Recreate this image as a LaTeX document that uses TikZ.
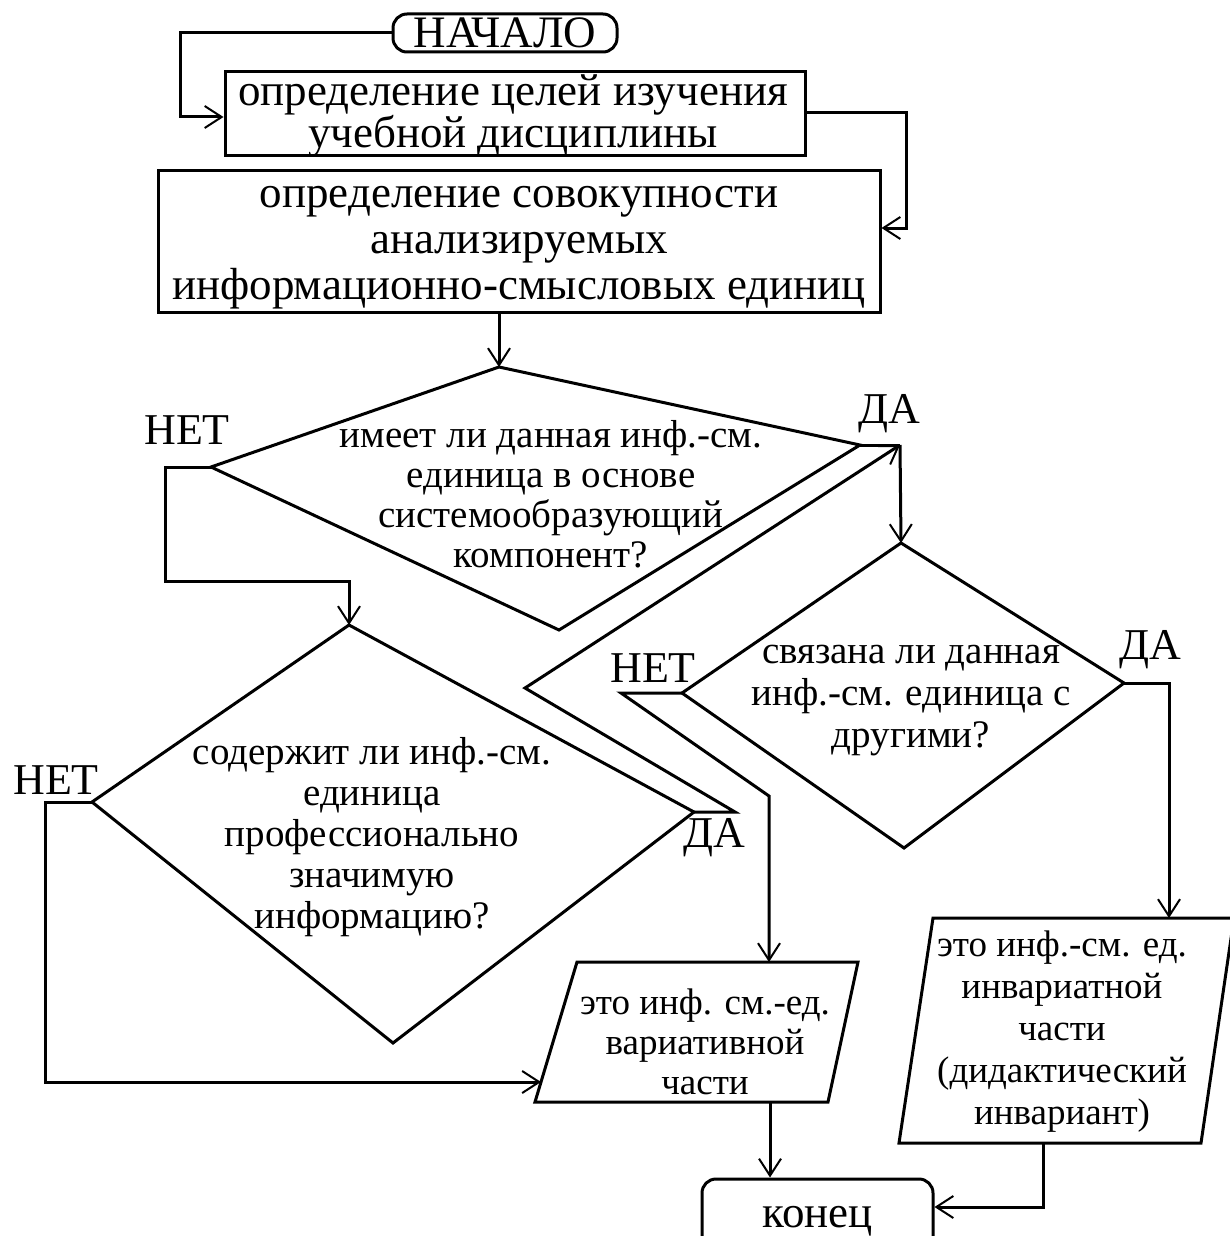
\documentclass[tikz,border=0pt]{standalone}
\usepackage{fontspec}
\setmainfont{Liberation Serif}
\usetikzlibrary{arrows.meta}
\begin{document}
\begin{tikzpicture}[x=1pt,y=-1pt,
  ln/.style={line width=3pt, line join=miter, line cap=butt},
  arr/.style={ln, -{Straight Barb[length=17pt,width=22pt,line width=2pt]}},
  shp/.style={ln},
  mid/.style={font=\fontsize{39}{40}\selectfont, align=center, inner sep=0pt},
  sml/.style={font=\fontsize{37}{40}\selectfont, align=center, inner sep=0pt},
  lbl/.style={font=\fontsize{44}{44}\selectfont, inner sep=0pt},
  box/.style={ln, draw, rectangle, inner sep=0pt, align=center, font=\fontsize{45}{44}\selectfont},
  term/.style={box, rounded corners=14pt}
]
\useasboundingbox (0,0) rectangle (1230,1236);
\fill[white] (0,0) rectangle (1230,1236);

% terminals and process boxes
\node[term, minimum width=224pt, minimum height=38pt] (start) at (505,33) {НАЧАЛО};
\node[box, minimum width=580pt, minimum height=83pt] (b1) at (515,113.5) {};
\node[box, font=\fontsize{45}{42}\selectfont, draw=none] (b1txt) at (513,116) {определение целей изучения\\учебной дисциплины};
\node[box, minimum width=722pt, minimum height=142pt] (b2) at (519,241) {};
\node[box, font=\fontsize{45}{46}\selectfont, draw=none] (b2txt) at (519,248) {определение совокупности\\анализируемых\\информационно-смысловых единиц};
\node[term, minimum width=231pt, minimum height=76pt, text depth=0pt] (end) at (817.5,1217) {конец};

% diamond 1
\coordinate (d1t) at (499,367);
\coordinate (d1r) at (860,445);
\coordinate (d1b) at (559,630);
\coordinate (d1l) at (211,467);
\draw[shp] (d1t) -- (d1r) -- (d1b) -- (d1l) -- cycle;
\node[mid] (d1txt) at (551,494) {имеет ли данная инф.-см.\\единица в основе\\системообразующий\\компонент?};

% diamond 2
\coordinate (d2t) at (349,625);
\coordinate (d2r) at (694,812);
\coordinate (d2b) at (393,1043);
\coordinate (d2l) at (92,802);
\draw[shp] (d2t) -- (d2r) -- (d2b) -- (d2l) -- cycle;
\node[mid, font=\fontsize{39}{41}\selectfont] (d2txt) at (372,837) {содержит ли инф.-см.\\единица\\профессионально\\значимую\\информацию?};

% diamond 3
\coordinate (d3t) at (901,543);
\coordinate (d3r) at (1124,683);
\coordinate (d3b) at (904,848);
\coordinate (d3l) at (682,693);
\draw[shp] (d3t) -- (d3r) -- (d3b) -- (d3l) -- cycle;
\node[mid, font=\fontsize{39}{42}\selectfont] (d3txt) at (911,701) {связана ли данная\\инф.-см. единица с\\другими?};

% parallelogram 1
\coordinate (p1a) at (577,962);
\coordinate (p1b) at (858,962);
\coordinate (p1c) at (828,1102);
\coordinate (p1d) at (535,1102);
\draw[shp] (p1a) -- (p1b) -- (p1c) -- (p1d) -- cycle;
\node[sml] (p1txt) at (705,1042) {это инф. см.-ед.\\вариативной\\части};

% parallelogram 2
\coordinate (p2a) at (933,918);
\coordinate (p2b) at (1234,918);
\coordinate (p2c) at (1201,1143);
\coordinate (p2d) at (899,1143);
\draw[shp] (p2a) -- (p2b) -- (p2c) -- (p2d) -- cycle;
\node[sml, font=\fontsize{37}{42}\selectfont] (p2txt) at (1062,1032) {это инф.-см. ед.\\инвариатной\\части\\(дидактический\\инвариант)};

% labels
\node[lbl] (n1) at (187,430) {НЕТ};
\node[lbl] (y1) at (889,414) {ДА};
\node[lbl] (n2) at (56,780) {НЕТ};
\node[lbl] (y2) at (714,838) {ДА};
\node[lbl] (n3) at (653,668) {НЕТ};
\node[lbl] (y3) at (1150,650) {ДА};

% bend coordinates
\coordinate (c1) at (180,33);
\coordinate (c2) at (180,117);
\coordinate (c3) at (906,113);
\coordinate (c4) at (906,228);
\coordinate (d1y) at (900,445);
\coordinate (c5) at (165,467);
\coordinate (c6) at (165,581);
\coordinate (c7) at (349,581);
\coordinate (c8) at (45,802);
\coordinate (c9) at (45,1082);
\coordinate (p1l) at (541,1082);
\coordinate (c10) at (735,812);
\coordinate (c11) at (525,688);
\coordinate (c12) at (621,693);
\coordinate (c13) at (769,796);
\coordinate (p1t) at (769,962);
\coordinate (c14) at (1169,683);
\coordinate (p2t) at (1169,918);
\coordinate (p1bot) at (770,1102);
\coordinate (p2bot) at (1043,1143);
\coordinate (c15) at (1043,1207);

% connectors
\draw[arr] (start.west) -- (c1) -- (c2) -- (c2 -| b1.west);
\draw[arr] (c3 -| b1.east) -- (c3) -- (c4) -- (c4 -| b2.east);
\draw[arr] (d1t |- b2.south) -- (d1t);
\draw[arr] (d1l) -- (c5) -- (c6) -- (c7) -- (d2t);
\draw[ln] (d1r) -- (d1y);
\draw[arr] (d1y) -- (d3t);
\draw[arr] (d2l) -- (c8) -- (c9) -- (p1l);
\draw[arr] (d2r) -- (c10) -- (c11) -- (d1y);
\draw[arr] (d3l) -- (c12) -- (c13) -- (p1t);
\draw[arr] (d3r) -- (c14) -- (p2t);
\draw[arr] (p1bot) -- (p1bot |- end.north);
\draw[arr] (p2bot) -- (c15) -- (c15 -| end.east);
\end{tikzpicture}
\end{document}
